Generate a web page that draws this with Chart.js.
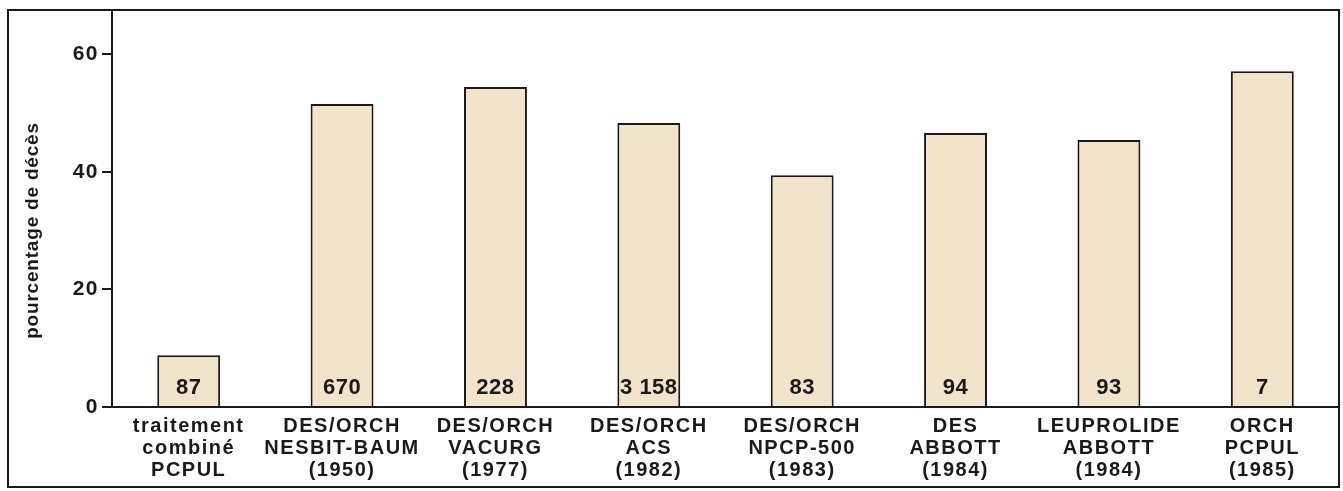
<!DOCTYPE html>
<html>
<head>
<meta charset="utf-8">
<script src="https://cdn.jsdelivr.net/npm/chart.js@4/dist/chart.umd.min.js"></script>
<style>
  body { margin: 0; background: #fff; }
  #wrap { width: 1343px; height: 491px; position: relative; }
</style>
</head>
<body>
<div id="wrap"><canvas id="chart"></canvas></div>
<script>
// Categories (multi-line labels)
var categories = [
    ['traitement', 'combiné', 'PCPUL'],
    ['DES/ORCH', 'NESBIT-BAUM', '(1950)'],
    ['DES/ORCH', 'VACURG', '(1977)'],
    ['DES/ORCH', 'ACS', '(1982)'],
    ['DES/ORCH', 'NPCP-500', '(1983)'],
    ['DES', 'ABBOTT', '(1984)'],
    ['LEUPROLIDE', 'ABBOTT', '(1984)'],
    ['ORCH', 'PCPUL', '(1985)']
];
// Percentage of deaths
var deathPercent = [8.8, 51.5, 54.4, 48.3, 39.4, 46.6, 45.4, 57.1];
// Number of patients written inside each bar
var patientCounts = ['87', '670', '228', '3 158', '83', '94', '93', '7'];
// y axis ticks and title
var yTicks = [0, 20, 40, 60];
var yTitle = 'pourcentage de décès';

var fontFamily = "'Liberation Sans', Arial, sans-serif";
var ink = '#1c1a18';

// The printed figure uses a loosely spaced Helvetica
var spacing = {
    id: 'spacing',
    beforeDraw: function(chart) {
        chart.ctx.letterSpacing = '1.5px';
    }
};

// Writes the patient counts, the y title (sits a bit low in the original) and the frame
var extras = {
    id: 'extras',
    afterDatasetsDraw: function(chart) {
        var ctx = chart.ctx;
        var meta = chart.getDatasetMeta(0);
        var yZero = chart.scales.y.getPixelForValue(0);
        ctx.save();
        ctx.letterSpacing = '0.5px';
        ctx.fillStyle = ink;
        ctx.font = 'bold 22px ' + fontFamily;
        ctx.textAlign = 'center';
        ctx.textBaseline = 'middle';
        meta.data.forEach(function(bar, i) {
            ctx.fillText(patientCounts[i], bar.x, yZero - 19);
        });

        // y title
        ctx.save();
        ctx.letterSpacing = '0.8px';
        ctx.font = 'bold 19px ' + fontFamily;
        ctx.translate(33, (chart.chartArea.top + yZero) / 2 + 22);
        ctx.rotate(-Math.PI / 2);
        ctx.fillText(yTitle, 0, 0);
        ctx.restore();

        // frame round the whole figure
        var area = chart.chartArea;
        ctx.strokeStyle = ink;
        ctx.lineWidth = 2;
        ctx.beginPath();
        ctx.moveTo(area.left, area.top);
        ctx.lineTo(area.right, area.top);
        ctx.lineTo(area.right, chart.height - 4);
        ctx.lineTo(8, chart.height - 4);
        ctx.lineTo(8, area.top);
        ctx.lineTo(area.left, area.top);
        ctx.stroke();
        ctx.restore();
    }
};

var ctx = document.getElementById('chart').getContext('2d');
new Chart(ctx, {
    type: 'bar',
    data: {
        labels: categories,
        datasets: [{
            data: deathPercent,
            backgroundColor: '#f2e4cb',
            borderColor: ink,
            borderWidth: 2,
            borderSkipped: 'bottom',
            barPercentage: 0.41,
            categoryPercentage: 1
        }]
    },
    options: {
        responsive: true,
        maintainAspectRatio: false,
        animation: false,
        layout: { padding: { left: 8, top: 10, right: 4, bottom: 4 } },
        plugins: {
            legend: { display: false },
            tooltip: { enabled: false }
        },
        scales: {
            x: {
                afterFit: function(scale) {
                    scale.height = 80;
                    scale.paddingLeft = 0;
                    scale.paddingRight = 0;
                },
                grid: { display: false, drawTicks: false },
                border: { display: true, color: ink, width: 2 },
                ticks: {
                    color: ink,
                    padding: 8,
                    maxRotation: 0,
                    autoSkip: false,
                    font: { family: fontFamily, size: 20, weight: 'bold', lineHeight: 1.1 }
                }
            },
            y: {
                min: 0,
                max: 67.5,
                afterFit: function(scale) {
                    scale.width = 104;
                    scale.paddingTop = 0;
                    scale.paddingBottom = 0;
                },
                afterBuildTicks: function(scale) {
                    scale.ticks = yTicks.map(function(v) { return { value: v }; });
                },
                grid: { drawOnChartArea: false, drawTicks: true, tickLength: 10, color: ink, lineWidth: 2 },
                border: { display: true, color: ink, width: 2 },
                ticks: {
                    color: ink,
                    padding: 3,
                    font: { family: fontFamily, size: 21, weight: 'bold' }
                }
            }
        }
    },
    plugins: [spacing, extras]
});
</script>
</body>
</html>
